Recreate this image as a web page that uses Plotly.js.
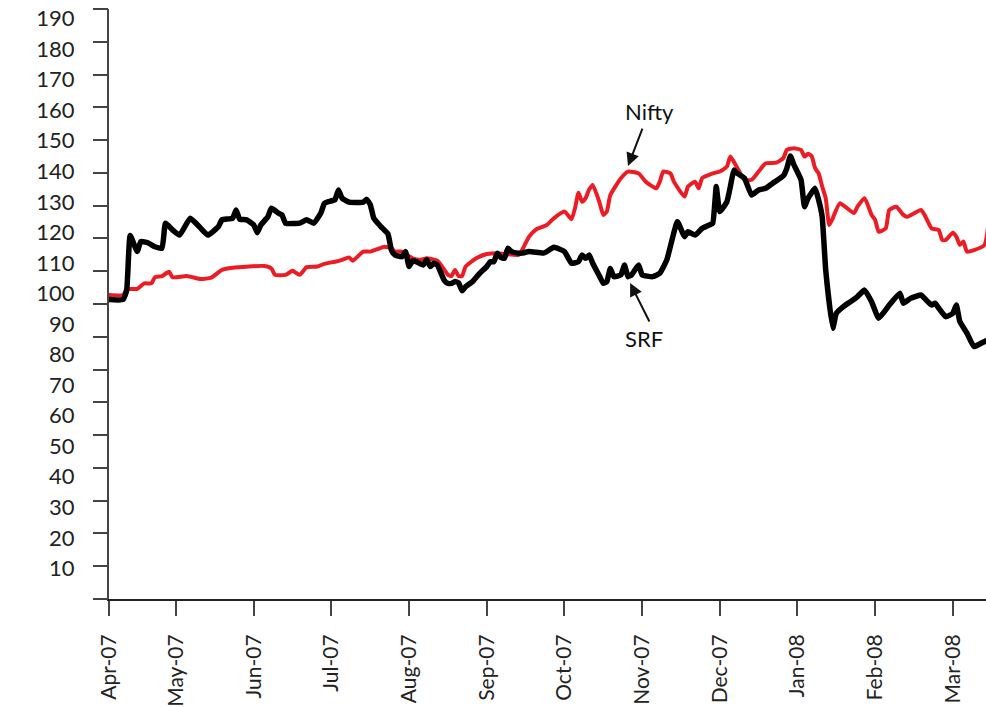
<!DOCTYPE html>
<html>
<head>
<meta charset="utf-8">
<script src="https://cdn.plot.ly/plotly-3.0.1.min.js"></script>
<style>
  html, body { margin: 0; padding: 0; background: #fff; }
  #chart { width: 986px; height: 707px; }
  .scatterlayer .js-line { stroke-linejoin: round; stroke-linecap: round; }
</style>
</head>
<body>
<div id="chart"></div>
<script>
// Trading-day index (0 = start of Apr-07) and rebased values
const srfDay = [0,4,5,6,8,9,11,13,15,16,18,20,23,26,28,31,32,35,36,37,39,41,42,43,45,46,48,49,50,54,56,58,60,61,62,64,65,66,68,72,73,74,75,77,79,80,81,83,84,85,86,87,89,90,91,92,93,95,96,97,98,99,100,101,103,105,107,108,109,110,111,112,113,114,116,117,119,123,124,126,129,131,133,134,135,136,137,139,140,141,142,143,145,146,147,148,150,151,154,156,158,161,163,164,166,168,170,171,172,173,175,176,177,178,180,182,184,186,188,191,192,193,194,196,197,198,200,201,202,203,205,206,208,210,212,214,216,218,221,224,225,227,230,231,233,234,235,237,239,240,241,243,245,247,249];
const srf = [98,98,101,119,113.7,117,116.6,115.3,114.8,123,120.8,119.1,124.6,121.3,119.1,121.9,124.1,124.6,127.3,124.3,124.1,122.4,119.9,122.4,125.1,127.9,126.3,125.7,123,123,124.1,123,126.3,129.5,130,130.7,133.9,131.2,129.9,129.9,130.8,129.1,124.6,121.9,119.5,114.2,112.6,112,113.7,108.8,110.7,110.4,109.3,111,108.8,109.9,109.3,104.2,103.3,103.3,103.9,103.5,100.9,102.2,103.9,106.6,108.8,110.4,110.4,113.2,111.8,111.5,114.8,113.7,113.2,113.2,113.7,113.2,113.7,115.1,113.7,109.9,110.4,112.6,111.5,112.6,109.9,105.5,103.3,103.9,108.2,105.5,106.1,109.3,105.5,106.1,109.3,106.1,105.5,106.6,111,123.5,118.6,120.2,119.1,121.3,122.4,123,135,126.8,130,135,140.4,139.3,137.7,132.2,133.9,134.4,136.1,138.5,141,145,142.1,137.2,128.4,131.2,134.4,130.6,125.1,107.7,88.6,93.5,95.7,97.3,99,101.1,97.3,91.9,96.2,100.1,96.8,98.4,99.5,98.4,96.2,96.8,95.2,92.4,93.5,96.2,90.8,87,82.6,83.7,84.8];

const niftyDay = [0,4,5,8,10,12,13,15,17,18,22,26,29,32,35,44,46,47,50,52,54,56,59,61,64,66,68,69,72,74,76,78,80,81,83,86,88,90,93,95,96,97,98,99,100,101,104,107,110,116,117,119,121,124,126,129,131,132,133,134,135,136,137,139,140,141,142,145,147,150,152,155,156,157,159,160,163,164,166,167,168,171,173,175,176,178,180,182,184,186,189,191,192,194,196,197,198,199,200,201,202,203,204,205,207,211,212,214,216,217,218,220,221,223,225,226,230,231,233,235,236,237,239,240,241,242,243,245,248,249];
const nifty = [99.5,99.5,101.4,101.5,103.3,103.3,105.3,105.7,107.1,105.3,105.7,104.7,105.2,107.7,108.4,109,108.2,106.1,106.1,107.4,106.1,108.6,108.8,109.7,110.4,111,111.8,110.7,113.7,113.7,114.5,115.3,114.8,113.7,113.7,111.5,111,111.5,110.7,107.7,106.1,105.7,107.7,105.7,105.7,108.8,111.5,112.9,113.2,112.6,114.2,118.6,121,122.4,124.6,126.8,124.3,128,133,130,131.2,134,135.5,129.5,125.7,126.8,132.2,137.7,139.9,139.3,136.6,134.4,136.6,139.9,139.3,136.6,131.7,135,136.6,134.4,137.7,139.3,139.9,141.5,144.8,141,137.2,137.2,139.9,142.6,142.8,144.3,147,147.5,147,144.8,145.7,145,141,139.3,135,131.2,122.4,124.6,129.5,126.3,128.4,131.2,125.7,124.1,120.2,121.3,127.3,128.4,125.7,125.1,127.3,125.7,121.3,120.8,117.5,117.5,119.9,118.6,115.9,117,113.7,114.2,115.9,122];

const monthTickDays = [0,19,41,63,85,107,129,151,173,195,217,239];
const monthLabels = ['Apr-07','May-07','Jun-07','Jul-07','Aug-07','Sep-07','Oct-07','Nov-07','Dec-07','Jan-08','Feb-08','Mar-08'];
const yLabelVals = [10,20,30,40,50,60,70,80,90,100,110,120,130,140,150,160,170,180,190];

const FONT = 'Lato, "Open Sans", "DejaVu Sans", sans-serif';

const traces = [
  { x: niftyDay, y: nifty, type: 'scatter', mode: 'lines', name: 'Nifty',
    line: { color: '#ED1C24', width: 4, shape: 'spline', smoothing: 0.5 }, hoverinfo: 'skip', showlegend: false },
  { x: srfDay, y: srf, type: 'scatter', mode: 'lines', name: 'SRF',
    line: { color: '#000000', width: 5.5, shape: 'spline', smoothing: 0.4 }, hoverinfo: 'skip', showlegend: false },
  { x: [], y: [], type: 'scatter', mode: 'lines', yaxis: 'y2', hoverinfo: 'skip', showlegend: false }
];

const layout = {
  width: 986, height: 707,
  margin: { l: 109, r: 0, t: 9, b: 108, pad: 0 },
  paper_bgcolor: '#ffffff', plot_bgcolor: '#ffffff',
  font: { family: FONT, color: '#222222' },
  showlegend: false,
  xaxis: {
    type: 'linear', range: [0, 248.4],
    tickmode: 'array', tickvals: monthTickDays, ticktext: monthLabels,
    tickangle: -90, tickfont: { size: 21, family: FONT, color: '#222222' },
    ticks: 'outside', ticklen: 15, tickwidth: 2, tickcolor: '#444444',
    ticklabelstandoff: 10,
    showline: true, linecolor: '#222222', linewidth: 2,
    showgrid: false, zeroline: false, automargin: false, fixedrange: true
  },
  yaxis: {
    range: [0, 193.1],
    tickmode: 'array', tickvals: yLabelVals, ticktext: yLabelVals.map(String),
    tickfont: { size: 22, family: FONT, color: '#222222' },
    ticks: 'outside', ticklen: 28, tickcolor: 'rgba(0,0,0,0)',
    showline: true, linecolor: '#444444', linewidth: 2,
    showgrid: false, zeroline: false, automargin: false, fixedrange: true
  },
  yaxis2: {
    overlaying: 'y', side: 'left', range: [0, 180],
    tickmode: 'linear', tick0: 0, dtick: 10,
    ticks: 'outside', ticklen: 15, tickwidth: 2, tickcolor: '#444444',
    showticklabels: false, showline: false, showgrid: false, zeroline: false,
    automargin: false, fixedrange: true
  },
  annotations: [
    { x: 153, y: 159.4, xref: 'x', yref: 'y', text: 'Nifty', showarrow: false,
      font: { size: 22, family: FONT, color: '#111111' } },
    { x: 151.6, y: 85.4, xref: 'x', yref: 'y', text: 'SRF', showarrow: false,
      font: { size: 22, family: FONT, color: '#111111' } },
    { x: 147.0, y: 141.7, xref: 'x', yref: 'y', text: '', showarrow: true,
      ax: 15, ay: -39, arrowhead: 2, arrowsize: 1.3, arrowwidth: 2, arrowcolor: '#111111', standoff: 0 },
    { x: 147.6, y: 103.4, xref: 'x', yref: 'y', text: '', showarrow: true,
      ax: 20, ay: 40, arrowhead: 2, arrowsize: 1.3, arrowwidth: 2, arrowcolor: '#111111', standoff: 0 }
  ]
};

Plotly.newPlot('chart', traces, layout, { staticPlot: true, displayModeBar: false });
</script>
</body>
</html>
